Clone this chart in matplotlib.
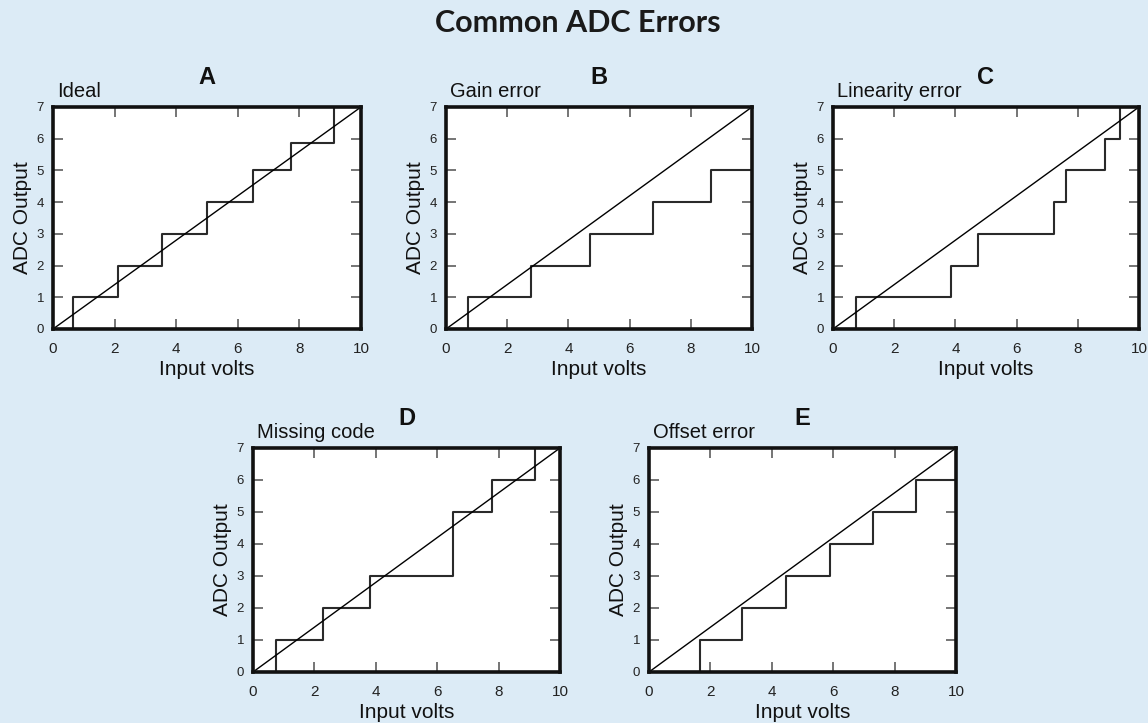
import matplotlib
matplotlib.use("Agg")
import matplotlib.pyplot as plt

# ---- data ----
panel_letters = ["A", "B", "C", "D", "E"]
panel_titles = ["Ideal", "Gain error", "Linearity error", "Missing code", "Offset error"]

# transition voltages and the output level reached after each transition
a_trans = [0.65, 2.1, 3.53, 5.0, 6.5, 7.72, 9.12]
a_levels = [1, 2, 3, 4, 5, 5.85, 7]
b_trans = [0.72, 2.78, 4.72, 6.75, 8.67]
b_levels = [1, 2, 3, 4, 5]
c_trans = [0.76, 3.87, 4.73, 7.21, 7.63, 8.88, 9.37]
c_levels = [1, 2, 3, 4, 5, 6, 7]
d_trans = [0.76, 2.28, 3.8, 6.5, 7.8, 9.2]
d_levels = [1, 2, 3, 5, 6, 7]
e_trans = [1.66, 3.04, 4.46, 5.88, 7.29, 8.71]
e_levels = [1, 2, 3, 4, 5, 6]

ideal_x = [0, 10]
ideal_y = [0, 7]

x_ticks = [0, 2, 4, 6, 8, 10]
y_ticks = [0, 1, 2, 3, 4, 5, 6, 7]

all_trans = [a_trans, b_trans, c_trans, d_trans, e_trans]
all_levels = [a_levels, b_levels, c_levels, d_levels, e_levels]

BG = "#dcebf6"
W, H = 1148, 723
fig = plt.figure(figsize=(W / 100, H / 100), dpi=100, facecolor=BG)
plt.rcParams["font.family"] = ["Liberation Sans", "DejaVu Sans"]

# axes boxes in pixel coords: left, right, top, bottom
boxes = [
    (53, 361, 107, 329),
    (446, 752, 107, 329),
    (833, 1139, 107, 329),
    (253, 560, 448, 672),
    (649, 956, 448, 672),
]

fig.text(0.503, 1 - 23 / H, "Common ADC Errors", ha="center", va="center",
         fontsize=22, fontweight="bold", family=["Lato", "DejaVu Sans"], color="#1a1a1a")

for i, (l, r, t, b) in enumerate(boxes):
    ax = fig.add_axes([l / W, 1 - b / H, (r - l) / W, (b - t) / H])
    ax.set_facecolor("white")
    trans = all_trans[i]
    levels = all_levels[i]
    xs = [0] + list(trans) + [10]
    ys = [0] + list(levels) + [levels[-1]]
    ax.step(xs, ys, where="post", color="#2a2a2a", lw=1.5, clip_on=True)
    ax.plot(ideal_x, ideal_y, color="black", lw=1.0)
    ax.set_xlim(0, 10)
    ax.set_ylim(0, 7)
    ax.set_xticks(x_ticks)
    ax.set_yticks(y_ticks)
    ax.tick_params(direction="in", length=7, width=1.3, color="#6a6a6a",
                   top=True, right=True, labelcolor="#222")
    ax.tick_params(axis="x", pad=9.5, labelsize=11)
    ax.tick_params(axis="y", pad=6.5, labelsize=9.5)
    for sp in ax.spines.values():
        sp.set_linewidth(2.6)
        sp.set_color("#111")
        sp.set_zorder(5)
    ax.set_xlabel("Input volts", fontsize=15, color="#111", labelpad=3)
    ax.set_ylabel("ADC Output", fontsize=15, color="#111", labelpad=3)
    hpx = b - t
    ax.text(0.012, 1 + 10 / hpx, panel_titles[i], transform=ax.transAxes, ha="left",
            va="baseline", fontsize=14.5, color="#111")
    ax.text(0.5, 1 + 23 / hpx, panel_letters[i], transform=ax.transAxes, ha="center",
            va="baseline", fontsize=17, fontweight="bold", color="#111")

fig.savefig("out.png", dpi=100, facecolor=BG)
